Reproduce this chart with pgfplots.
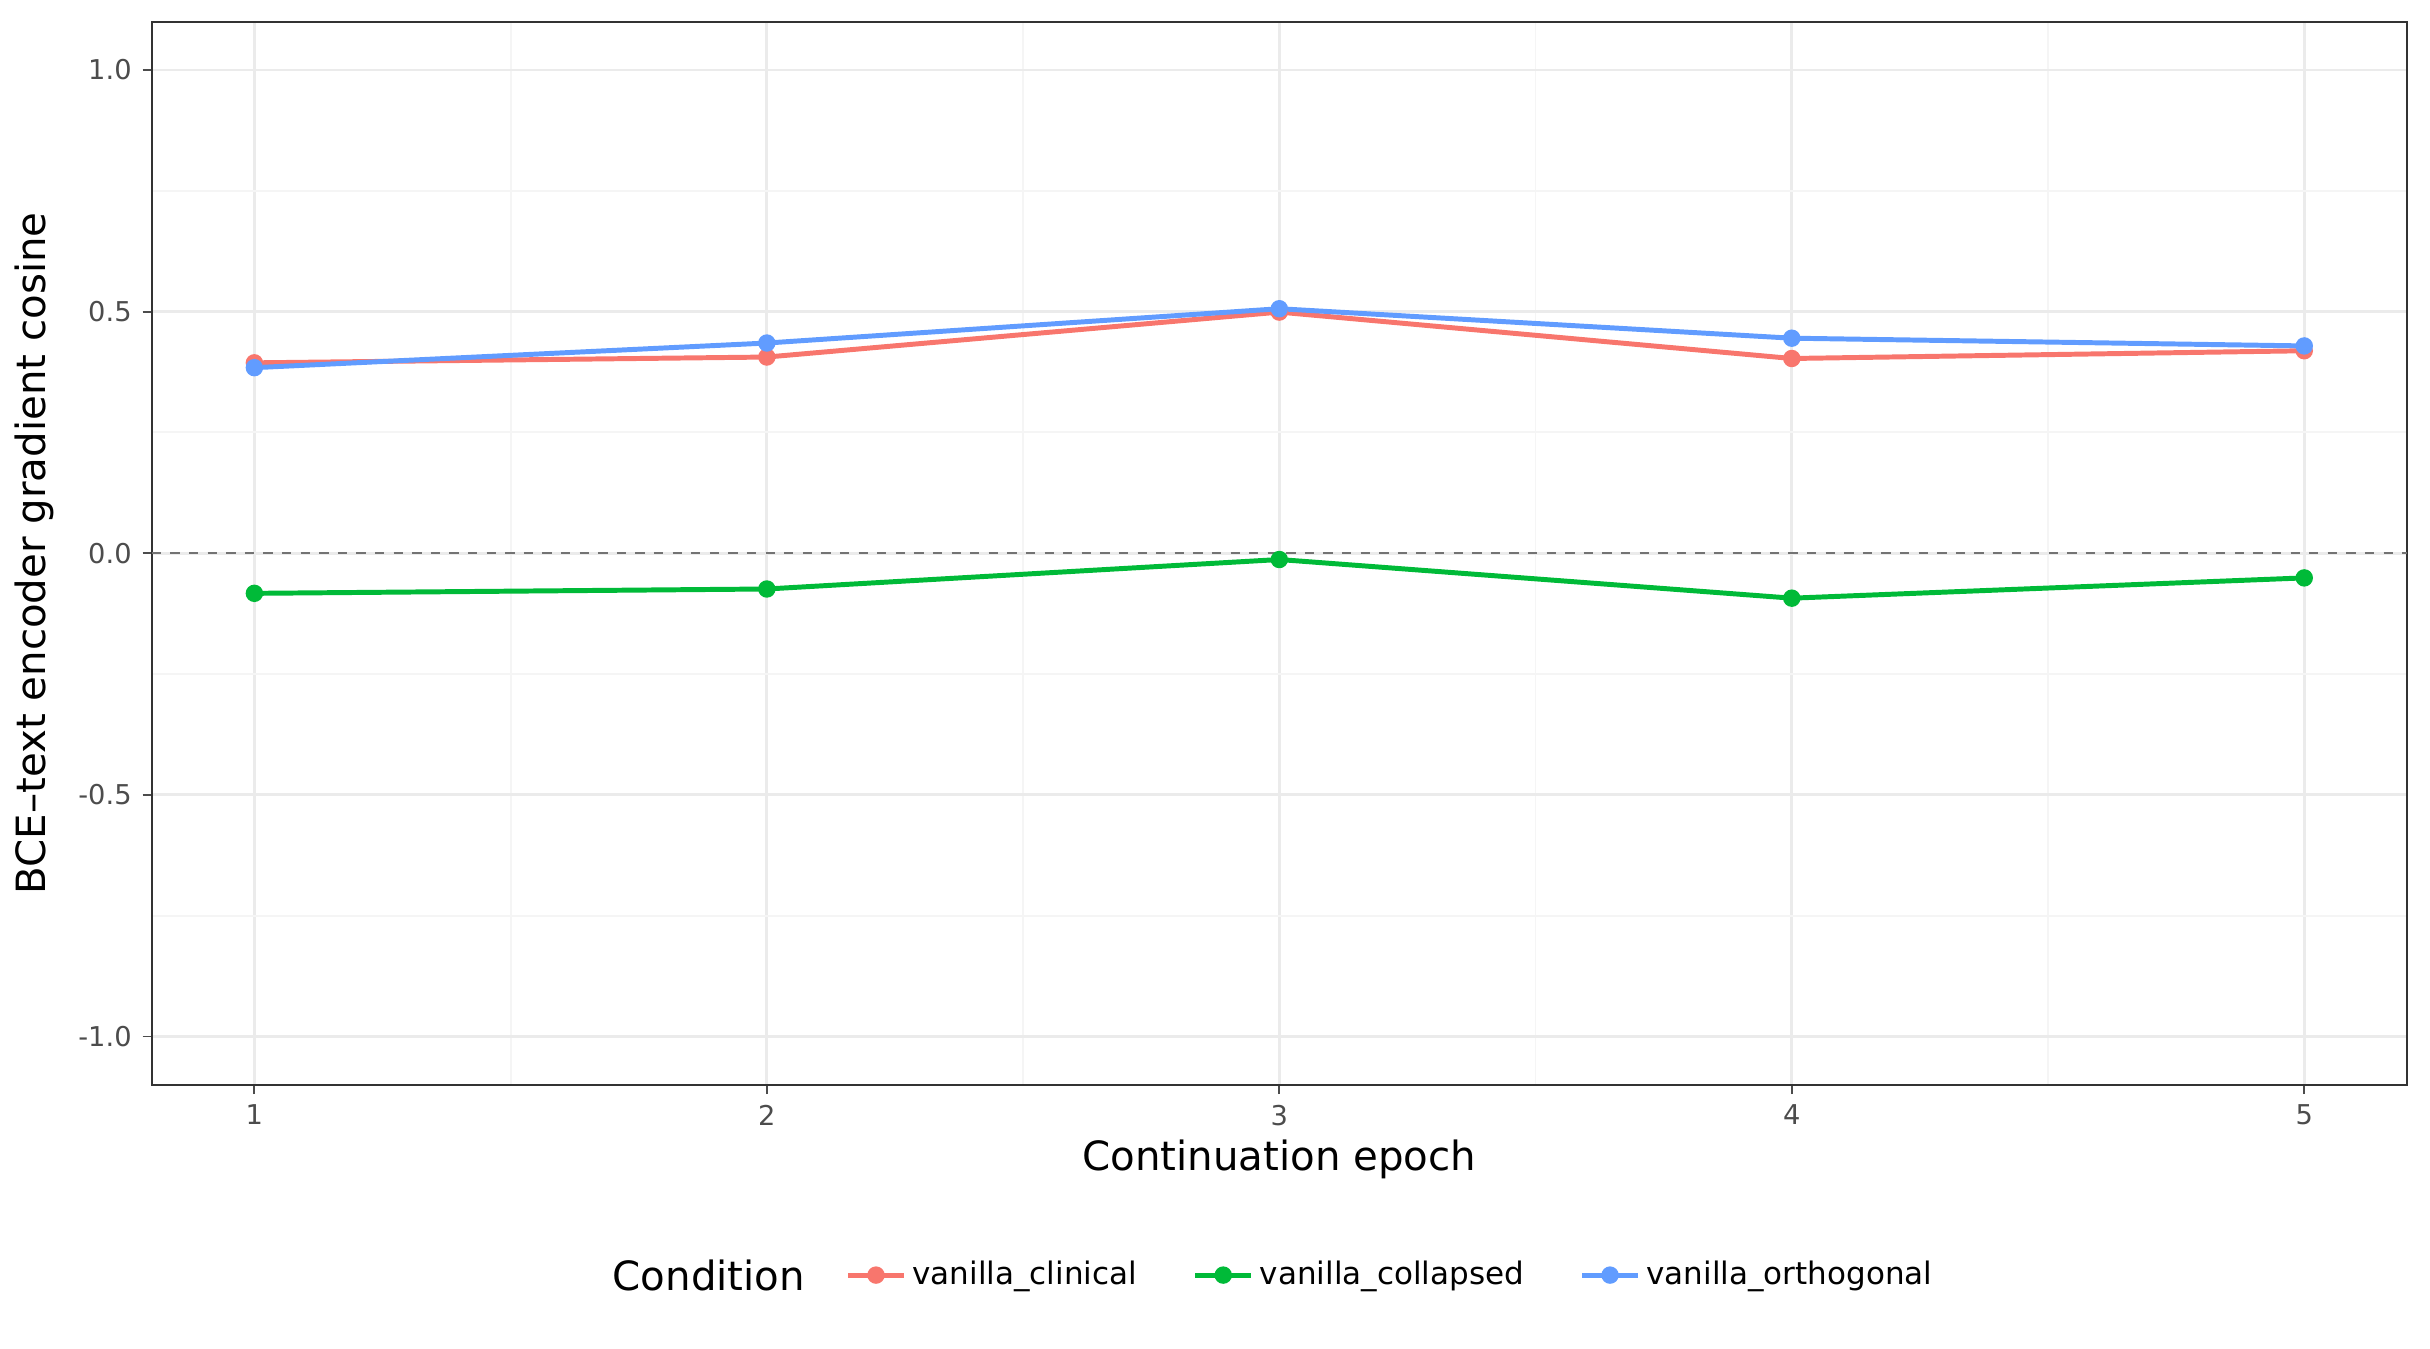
\documentclass[border=0pt]{standalone}
\usepackage{pgfplots}
\pgfplotsset{compat=1.18}
\usepackage{fontspec}
\setmainfont{DejaVu Sans}
\definecolor{cclin}{HTML}{F8766D}
\definecolor{ccol}{HTML}{00BA38}
\definecolor{corth}{HTML}{619CFF}
\begin{document}
\begin{tikzpicture}
\path (0,0) rectangle (784pt,435pt);
\begin{axis}[at={(49pt,85pt)}, anchor=south west, scale only axis,
 width=727.5pt, height=343pt,
 xmin=0.8, xmax=5.2, ymin=-1.1, ymax=1.1,
 xtick={1,2,3,4,5}, ytick={-1,-0.5,0,0.5,1},
 minor xtick={1.5,2.5,3.5,4.5}, minor ytick={-0.75,-0.25,0.25,0.75},
 yticklabels={-1.0,-0.5,0.0,0.5,1.0},
 xtick pos=bottom, ytick pos=left,
 /pgf/number format/assume math mode=true,
 grid=both, major grid style={color=black!8, line width=0.9pt},
 minor grid style={color=black!4, line width=0.6pt},
 axis line style={black!80, line width=0.6pt},
 tick style={black!70, line width=0.6pt}, tick align=outside, major tick length=3pt,
 minor tick length=0pt,
 ticklabel style={font=\fontsize{8.8}{9}\selectfont, text=black!70},
 every axis plot/.append style={line width=1.6pt, mark=*, mark size=2pt},
 legend style={at={(rel axis cs:0.55,-0.179)}, anchor=center, draw=none, fill=none,
   legend columns=3, font=\fontsize{10}{11}\selectfont,
   /tikz/every even column/.append style={column sep=16pt}},
 legend image code/.code={\draw[#1,mark=none] (0pt,0pt) -- (18pt,0pt); \fill[#1] (9pt,0pt) circle (2pt);},
 clip=false]
\draw[black!55, dashed, line width=0.8pt] (axis cs:0.8,0) -- (axis cs:5.2,0);
\addplot[cclin, mark options={fill=cclin}] coordinates {(1,0.394)(2,0.406)(3,0.499)(4,0.403)(5,0.419)};
\addlegendentry{vanilla\_clinical}
\addplot[ccol, mark options={fill=ccol}] coordinates {(1,-0.083)(2,-0.074)(3,-0.013)(4,-0.093)(5,-0.051)};
\addlegendentry{vanilla\_collapsed}
\addplot[corth, mark options={fill=corth}] coordinates {(1,0.384)(2,0.435)(3,0.506)(4,0.445)(5,0.429)};
\addlegendentry{vanilla\_orthogonal}
\node[font=\fontsize{13}{14}\selectfont] at (rel axis cs:0.5,-0.07) {Continuation epoch};
\node[font=\fontsize{13}{14}\selectfont, rotate=90] at (rel axis cs:-0.052,0.5) {BCE–text encoder gradient cosine};
\node[font=\fontsize{13}{14}\selectfont] at (rel axis cs:0.247,-0.179) {Condition};
\end{axis}
\end{tikzpicture}
\end{document}
